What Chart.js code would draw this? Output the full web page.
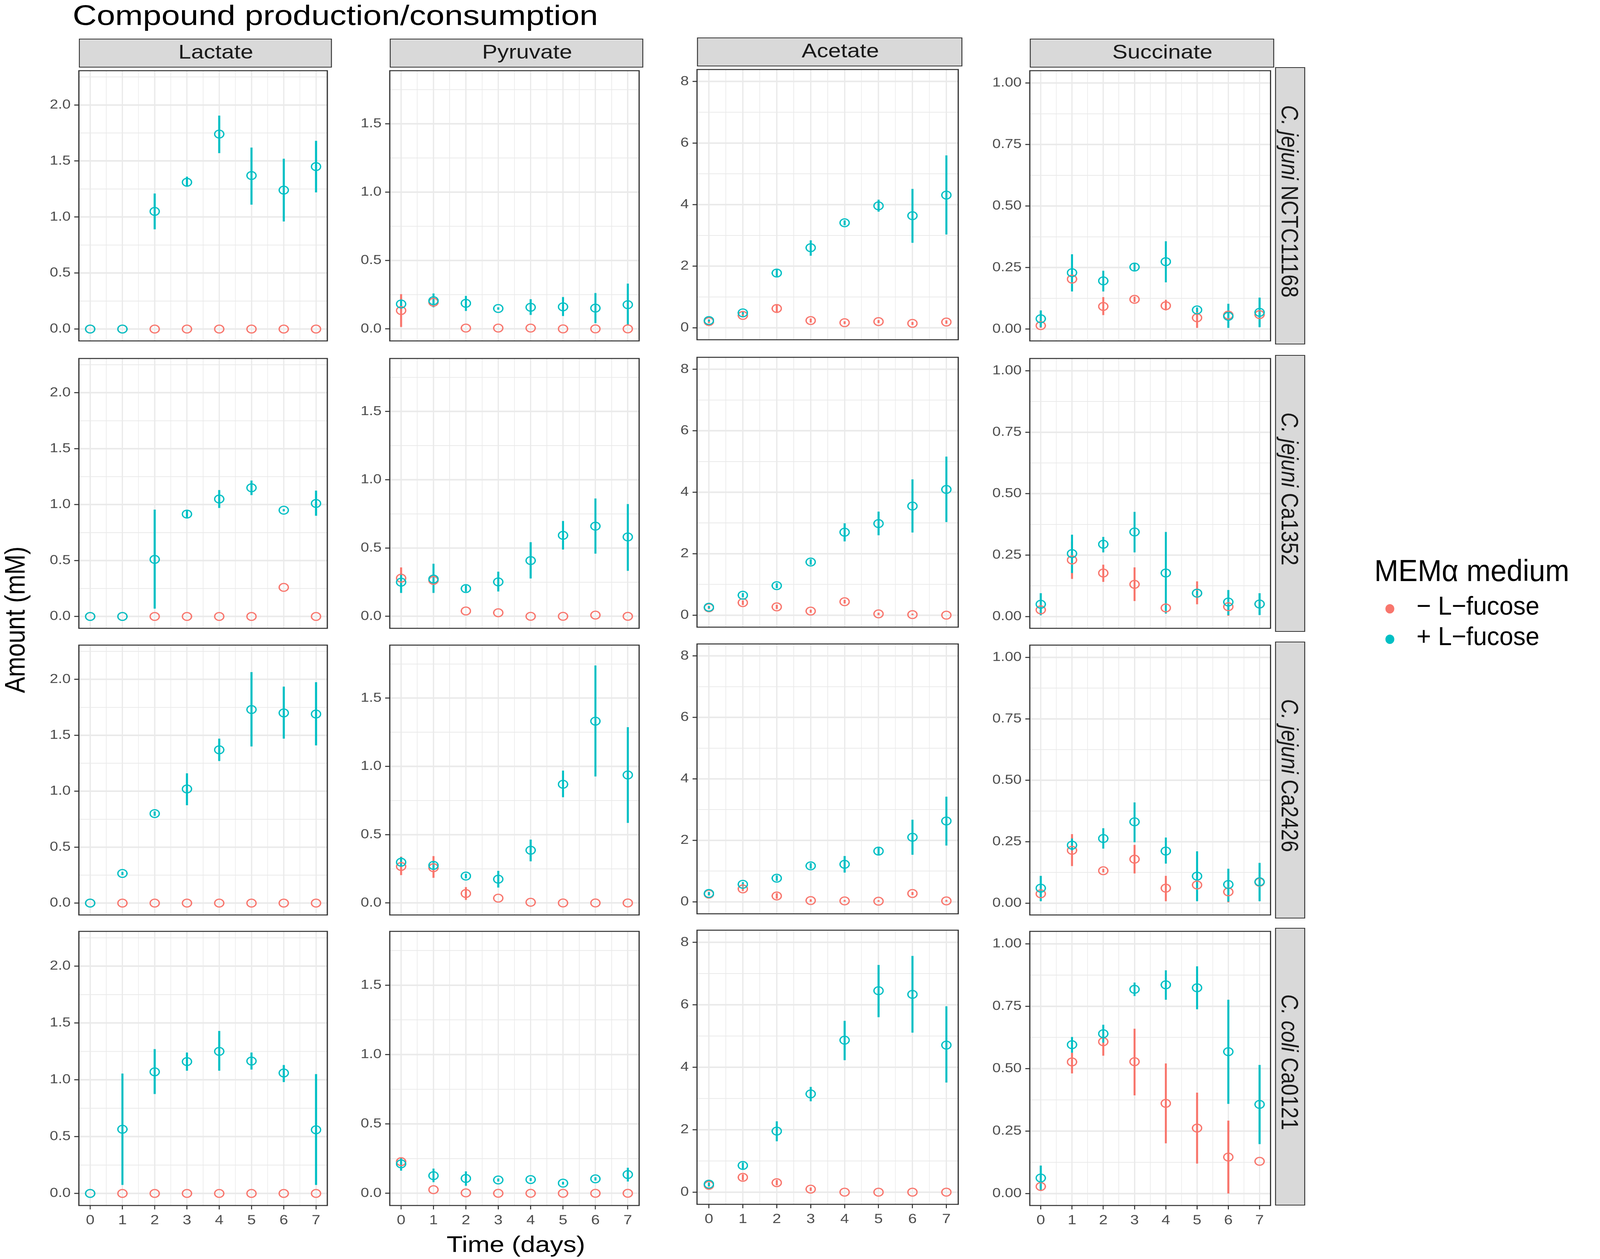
<!DOCTYPE html>
<html>
<head>
<meta charset="utf-8">
<script src="https://cdn.jsdelivr.net/npm/chart.js@4.4.1/dist/chart.umd.min.js"></script>
<style>
html, body { margin: 0; padding: 0; background: #fff; }
body { width: 100vw; height: 100vh; overflow: hidden; font-family: 'Liberation Sans', Arial, Helvetica, sans-serif; }
#fig, #legend { position: absolute; left: 0; top: 0; height: 3224px; transform-origin: 0 0; }
#legend { width: 4317px; }
#fig canvas { position: absolute; }
.txt { position: absolute; white-space: nowrap; line-height: 1; }
.strip { position: absolute; box-sizing: border-box; background: #d9d9d9; border: 2.4px solid #333;
         display: flex; align-items: center; justify-content: center; font-size: 50px; color: #1a1a1a; }
.vstrip { writing-mode: vertical-rl; font-size: 53px; }
.dot { position: absolute; border-radius: 50%; }
</style>
</head>
<body>
<div id="fig"></div>
<div id="legend"></div>
<script>
// ---- data ----
const days = [0, 1, 2, 3, 4, 5, 6, 7];
const compounds = ['Lactate', 'Pyruvate', 'Acetate', 'Succinate'];
const strains = ['<i>C. jejuni</i> NCTC11168', '<i>C. jejuni</i> Ca1352', '<i>C. jejuni</i> Ca2426', '<i>C. coli</i> Ca0121'];
const seriesNames = ['\u2212 L\u2212fucose', '+ L\u2212fucose'];

const xTickLabels = ['0', '1', '2', '3', '4', '5', '6', '7'];
const lactateTicks = ['0.0', '0.5', '1.0', '1.5', '2.0'];
const pyruvateTicks = ['0.0', '0.5', '1.0', '1.5'];
const acetateTicks = ['0', '2', '4', '6', '8'];
const succinateTicks = ['0.00', '0.25', '0.50', '0.75', '1.00'];

// rows: NCTC11168, Ca1352, Ca2426, Ca0121
const lactatePlus = [
    [0, 0, 1.05, 1.31, 1.74, 1.37, 1.24, 1.45],
    [0, 0, 0.51, 0.915, 1.05, 1.15, 0.95, 1.01],
    [0, 0.265, 0.80, 1.02, 1.37, 1.73, 1.70, 1.69],
    [0, 0.565, 1.07, 1.16, 1.25, 1.165, 1.06, 0.56]
];
const lactatePlusLo = [
    [0, 0, 0.89, 1.27, 1.57, 1.11, 0.96, 1.22],
    [0, 0, 0.07, 0.88, 0.97, 1.085, 0.94, 0.90],
    [0, 0.25, 0.78, 0.875, 1.27, 1.40, 1.47, 1.41],
    [0, 0.075, 0.875, 1.08, 1.08, 1.09, 0.98, 0.075]
];
const lactatePlusHi = [
    [0, 0, 1.21, 1.36, 1.905, 1.62, 1.52, 1.68],
    [0, 0, 0.955, 0.945, 1.13, 1.215, 0.96, 1.125],
    [0, 0.28, 0.82, 1.16, 1.47, 2.065, 1.935, 1.975],
    [0, 1.055, 1.27, 1.24, 1.43, 1.24, 1.13, 1.05]
];
const lactateMinus = [
    [0, 0, 0, 0, 0, 0, 0, 0],
    [0, 0, 0, 0, 0, 0, 0.26, 0],
    [0, 0, 0, 0, 0, 0, 0, 0],
    [0, 0, 0, 0, 0, 0, 0, 0]
];
const lactateMinusLo = lactateMinus;
const lactateMinusHi = lactateMinus;

const pyruvatePlus = [
    [0.182, 0.206, 0.187, 0.149, 0.158, 0.161, 0.152, 0.177],
    [0.250, 0.273, 0.203, 0.252, 0.408, 0.593, 0.660, 0.581],
    [0.298, 0.275, 0.197, 0.174, 0.386, 0.869, 1.331, 0.937],
    [0.212, 0.127, 0.107, 0.096, 0.099, 0.073, 0.104, 0.135]
];
const pyruvatePlusLo = [
    [0.150, 0.158, 0.131, 0.140, 0.102, 0.094, 0.042, 0.026],
    [0.171, 0.171, 0.180, 0.182, 0.277, 0.489, 0.459, 0.333],
    [0.265, 0.245, 0.180, 0.113, 0.305, 0.774, 0.926, 0.586],
    [0.163, 0.080, 0.054, 0.085, 0.088, 0.063, 0.092, 0.085]
];
const pyruvatePlusHi = [
    [0.215, 0.259, 0.241, 0.158, 0.217, 0.233, 0.262, 0.331],
    [0.313, 0.385, 0.226, 0.327, 0.543, 0.698, 0.863, 0.822],
    [0.335, 0.305, 0.214, 0.235, 0.464, 0.969, 1.739, 1.287],
    [0.259, 0.178, 0.158, 0.107, 0.110, 0.083, 0.116, 0.184]
];
const pyruvateMinus = [
    [0.134, 0.195, 0.006, 0.006, 0.006, 0, 0, 0],
    [0.279, 0.263, 0.039, 0.026, 0, 0, 0.009, 0],
    [0.267, 0.258, 0.069, 0.035, 0.005, 0, 0, 0],
    [0.228, 0.026, 0.003, 0, 0, 0, 0, 0]
];
const pyruvateMinusLo = [
    [0.014, 0.175, 0.006, 0.006, 0.006, 0, 0, 0],
    [0.212, 0.235, 0.039, 0.026, 0, 0, 0.009, 0],
    [0.204, 0.184, 0.022, 0.035, 0.005, 0, 0, 0],
    [0.205, 0.026, 0.003, 0, 0, 0, 0, 0]
];
const pyruvateMinusHi = [
    [0.254, 0.215, 0.006, 0.006, 0.006, 0, 0, 0],
    [0.358, 0.290, 0.039, 0.026, 0, 0, 0.009, 0],
    [0.339, 0.343, 0.116, 0.035, 0.005, 0, 0, 0],
    [0.250, 0.026, 0.003, 0, 0, 0, 0, 0]
];

const acetatePlus = [
    [0.234, 0.483, 1.776, 2.60, 3.41, 3.96, 3.64, 4.31],
    [0.258, 0.648, 0.96, 1.729, 2.70, 2.98, 3.55, 4.09],
    [0.27, 0.57, 0.768, 1.17, 1.22, 1.65, 2.10, 2.63],
    [0.255, 0.854, 1.955, 3.146, 4.867, 6.451, 6.334, 4.709]
];
const acetatePlusLo = [
    [0.20, 0.43, 1.65, 2.34, 3.33, 3.77, 2.76, 3.03],
    [0.22, 0.58, 0.88, 1.64, 2.40, 2.60, 2.69, 3.03],
    [0.22, 0.50, 0.68, 1.08, 0.95, 1.53, 1.53, 1.83],
    [0.20, 0.75, 1.63, 2.91, 4.227, 5.604, 5.108, 3.511]
];
const acetatePlusHi = [
    [0.27, 0.54, 1.90, 2.84, 3.49, 4.16, 4.51, 5.60],
    [0.30, 0.72, 1.04, 1.82, 2.99, 3.37, 4.42, 5.16],
    [0.32, 0.64, 0.86, 1.26, 1.49, 1.77, 2.67, 3.42],
    [0.31, 0.95, 2.27, 3.37, 5.487, 7.277, 7.566, 5.955]
];
const acetateMinus = [
    [0.20, 0.40, 0.625, 0.234, 0.163, 0.20, 0.142, 0.185],
    [0.24, 0.408, 0.27, 0.132, 0.438, 0.042, 0.018, 0],
    [0.25, 0.42, 0.19, 0.04, 0.03, 0.02, 0.27, 0.03],
    [0.22, 0.475, 0.303, 0.096, 0, 0, 0, 0]
];
const acetateMinusLo = [
    [0.15, 0.34, 0.48, 0.17, 0.12, 0.15, 0.09, 0.13],
    [0.20, 0.33, 0.20, 0.08, 0.38, 0, 0, 0],
    [0.20, 0.35, 0.10, 0, 0, 0, 0.22, 0],
    [0.17, 0.38, 0.22, 0.04, 0, 0, 0, 0]
];
const acetateMinusHi = [
    [0.25, 0.46, 0.76, 0.30, 0.21, 0.25, 0.19, 0.24],
    [0.28, 0.48, 0.34, 0.18, 0.50, 0.08, 0.05, 0],
    [0.30, 0.49, 0.28, 0.08, 0.06, 0.05, 0.32, 0.06],
    [0.27, 0.57, 0.39, 0.15, 0, 0, 0, 0]
];

const succinatePlus = [
    [0.042, 0.229, 0.196, 0.252, 0.274, 0.078, 0.052, 0.068],
    [0.050, 0.256, 0.294, 0.344, 0.177, 0.095, 0.059, 0.051],
    [0.061, 0.236, 0.263, 0.331, 0.212, 0.110, 0.076, 0.087],
    [0.062, 0.596, 0.640, 0.818, 0.836, 0.824, 0.568, 0.357]
];
const succinatePlusLo = [
    [0.008, 0.153, 0.153, 0.235, 0.190, 0.068, 0.005, 0.008],
    [0.005, 0.177, 0.261, 0.261, 0.012, 0.085, 0.006, 0.006],
    [0.008, 0.215, 0.222, 0.248, 0.161, 0.008, 0.006, 0.008],
    [0.010, 0.564, 0.604, 0.791, 0.776, 0.738, 0.359, 0.198]
];
const succinatePlusHi = [
    [0.076, 0.304, 0.237, 0.268, 0.357, 0.088, 0.103, 0.128],
    [0.095, 0.333, 0.324, 0.426, 0.344, 0.105, 0.108, 0.095],
    [0.111, 0.263, 0.305, 0.410, 0.267, 0.211, 0.140, 0.164],
    [0.112, 0.627, 0.676, 0.845, 0.894, 0.910, 0.776, 0.515]
];
const succinateMinus = [
    [0.014, 0.203, 0.092, 0.121, 0.095, 0.046, 0.057, 0.059],
    [0.027, 0.230, 0.177, 0.131, 0.035, 0.095, 0.040, 0.051],
    [0.038, 0.215, 0.132, 0.179, 0.061, 0.074, 0.046, 0.085],
    [0.028, 0.527, 0.608, 0.528, 0.361, 0.262, 0.146, 0.129]
];
const succinateMinusLo = [
    [0.005, 0.190, 0.057, 0.110, 0.076, 0.005, 0.045, 0.045],
    [0.015, 0.153, 0.141, 0.063, 0.025, 0.050, 0.003, 0.040],
    [0.025, 0.151, 0.125, 0.121, 0.008, 0.060, 0.003, 0.075],
    [0.020, 0.481, 0.552, 0.393, 0.201, 0.120, 0.000, 0.129]
];
const succinateMinusHi = [
    [0.022, 0.215, 0.130, 0.132, 0.119, 0.079, 0.070, 0.072],
    [0.040, 0.305, 0.211, 0.200, 0.045, 0.143, 0.050, 0.060],
    [0.050, 0.281, 0.140, 0.237, 0.111, 0.090, 0.060, 0.095],
    [0.035, 0.564, 0.643, 0.660, 0.521, 0.404, 0.292, 0.129]
];

// ---- layout (pixels of the 4317 wide picture) ----
const SX = 1.23;                 // the panels and their text are stretched sideways
const W = 4317 / SX;
const colX = [[213, 895], [1052, 1736], [1881, 2597], [2778, 3438]];
const rowY = [[172, 882], [909, 1618], [1643, 2352], [2376, 3087]];
const colShift = [0, 0, -3, 0];
const yRange = [[-0.106, 2.306], [-0.088, 1.888], [-0.39, 8.39], [-0.048, 1.05]];
const YW = 100, XH = 72, PAD = 4;
const RED = '#F8766D', TEAL = '#00BFC4';
const FONT = "'Liberation Sans', Arial, Helvetica, sans-serif";

const panelData = [
    [lactateMinus, lactateMinusLo, lactateMinusHi, lactatePlus, lactatePlusLo, lactatePlusHi, lactateTicks],
    [pyruvateMinus, pyruvateMinusLo, pyruvateMinusHi, pyruvatePlus, pyruvatePlusLo, pyruvatePlusHi, pyruvateTicks],
    [acetateMinus, acetateMinusLo, acetateMinusHi, acetatePlus, acetatePlusLo, acetatePlusHi, acetateTicks],
    [succinateMinus, succinateMinusLo, succinateMinusHi, succinatePlus, succinatePlusLo, succinatePlusHi, succinateTicks]
];

// map the 4317x3224 layout onto the viewport actually given
const kx = window.innerWidth / 4317, ky = window.innerHeight / 3224;
const fig = document.getElementById('fig');
const legend = document.getElementById('legend');
fig.style.width = W + 'px';
fig.style.transform = 'scale(' + kx + ',' + ky + ') scaleX(' + SX + ')';
legend.style.transform = 'scale(' + kx + ',' + ky + ')';

function addText(parent, html, css) {
    const d = document.createElement('div');
    d.className = 'txt';
    d.innerHTML = html;
    Object.assign(d.style, css);
    parent.appendChild(d);
    return d;
}

// error bars drawn through the chart scales
const errorBars = {
    id: 'errorBars',
    beforeDatasetsDraw(chart) {
        const {ctx, scales: {x, y}} = chart;
        ctx.save();
        ctx.lineWidth = 4.5;
        chart.data.datasets.slice().sort((a, b) => b.order - a.order).forEach(ds => {
            ctx.strokeStyle = ds.borderColor;
            ds.data.forEach((p, i) => {
                const lo = ds.errLo[i], hi = ds.errHi[i];
                if (hi - lo <= 0) return;
                const px = x.getPixelForValue(p.x);
                ctx.beginPath();
                ctx.moveTo(px, y.getPixelForValue(lo));
                ctx.lineTo(px, y.getPixelForValue(hi));
                ctx.stroke();
            });
        });
        ctx.restore();
    }
};

const panelBorder = {
    id: 'panelBorder',
    afterDraw(chart) {
        const {ctx, chartArea: a} = chart;
        ctx.save();
        ctx.strokeStyle = '#333333';
        ctx.lineWidth = 2.6;
        ctx.strokeRect(a.left, a.top, a.right - a.left, a.bottom - a.top);
        ctx.restore();
    }
};

const xMajor = xTickLabels.map(Number);
const xGrid = [];
xMajor.forEach((v, i) => { xGrid.push(v); if (i < xMajor.length - 1) xGrid.push(v + 0.5); });

function makePanel(c, r) {
    const [mMean, mLo, mHi, pMean, pLo, pHi, tickLabels] = panelData[c];
    const majors = tickLabels.map(Number);
    const step = majors[1] - majors[0];
    const yGrid = [];
    majors.forEach(v => { yGrid.push(v); if (v + step / 2 < yRange[c][1]) yGrid.push(v + step / 2); });
    const isMajorY = v => majors.some(m => Math.abs(m - v) < 1e-9);
    const isMajorX = v => Number.isInteger(Math.round(v * 1000) / 1000);

    const bottomRow = r === 3;
    const L = colX[c][0] / SX, R = colX[c][1] / SX;
    const T = rowY[r][0] + colShift[c], B = rowY[r][1] + colShift[c];
    const cw = Math.round(R - L + YW + PAD);
    const ch = Math.round(B - T + PAD + (bottomRow ? XH : PAD));

    const canvas = document.createElement('canvas');
    canvas.width = cw;
    canvas.height = ch;
    canvas.style.left = (L - YW) + 'px';
    canvas.style.top = (T - PAD) + 'px';
    canvas.style.width = cw + 'px';
    canvas.style.height = ch + 'px';
    fig.appendChild(canvas);

    const mk = (mean, lo, hi, color, name, order) => ({
        label: name,
        data: days.map((d, i) => ({x: d, y: mean[r][i]})),
        errLo: lo[r],
        errHi: hi[r],
        borderColor: color,
        backgroundColor: 'rgba(0,0,0,0)',
        pointBackgroundColor: 'rgba(0,0,0,0)',
        pointBorderColor: color,
        pointBorderWidth: 3,
        pointRadius: 10,
        showLine: false,
        order: order
    });

    new Chart(canvas, {
        type: 'scatter',
        data: {
            datasets: [
                mk(mMean, mLo, mHi, RED, seriesNames[0], 1),
                mk(pMean, pLo, pHi, TEAL, seriesNames[1], 0)
            ]
        },
        options: {
            responsive: false,
            animation: false,
            devicePixelRatio: 2,
            events: [],
            layout: {padding: {left: 0, top: PAD, right: PAD, bottom: bottomRow ? 0 : PAD}},
            plugins: {legend: {display: false}, tooltip: {enabled: false}},
            scales: {
                x: {
                    type: 'linear',
                    min: -0.35,
                    max: 7.35,
                    afterBuildTicks: ax => { ax.ticks = xGrid.map(v => ({value: v})); },
                    afterFit: ax => { ax.height = bottomRow ? XH : 0; ax.paddingLeft = 0; ax.paddingRight = 0; },
                    border: {display: false},
                    grid: {
                        color: '#EAEAEA',
                        lineWidth: ctx => isMajorX(ctx.tick.value) ? 2.8 : 1.4,
                        drawTicks: bottomRow,
                        tickLength: 10,
                        tickWidth: 2.2,
                        tickColor: ctx => isMajorX(ctx.tick.value) ? '#333333' : 'rgba(0,0,0,0)'
                    },
                    ticks: {
                        display: bottomRow,
                        autoSkip: false,
                        maxRotation: 0,
                        minRotation: 0,
                        padding: 8,
                        color: '#4D4D4D',
                        font: {family: FONT, size: 34},
                        callback: v => {
                            const i = xMajor.findIndex(m => Math.abs(m - v) < 1e-9);
                            return i >= 0 ? xTickLabels[i] : '';
                        }
                    }
                },
                y: {
                    type: 'linear',
                    min: yRange[c][0],
                    max: yRange[c][1],
                    afterBuildTicks: ax => { ax.ticks = yGrid.map(v => ({value: v})); },
                    afterFit: ax => { ax.width = YW; ax.paddingTop = 0; ax.paddingBottom = 0; },
                    border: {display: false},
                    grid: {
                        color: '#EAEAEA',
                        lineWidth: ctx => isMajorY(ctx.tick.value) ? 4 : 2,
                        drawTicks: true,
                        tickLength: 10,
                        tickWidth: 2.6,
                        tickColor: ctx => isMajorY(ctx.tick.value) ? '#333333' : 'rgba(0,0,0,0)'
                    },
                    ticks: {
                        autoSkip: false,
                        padding: 8,
                        color: '#4D4D4D',
                        font: {family: FONT, size: 33},
                        callback: v => {
                            const i = majors.findIndex(m => Math.abs(m - v) < 1e-9);
                            return i >= 0 ? tickLabels[i] : '';
                        }
                    }
                }
            }
        },
        plugins: [errorBars, panelBorder]
    });
}

for (let c = 0; c < compounds.length; c++) {
    for (let r = 0; r < strains.length; r++) makePanel(c, r);
}

// top strips (label sits a little right of centre, as in the source figure)
compounds.forEach((name, c) => {
    const s = document.createElement('div');
    s.className = 'strip';
    const L = colX[c][0] / SX, R = colX[c][1] / SX;
    s.style.left = L + 'px';
    s.style.width = (R - L) + 'px';
    s.style.top = (99 + colShift[c]) + 'px';
    s.style.height = '74px';
    s.style.paddingLeft = '46px';
    s.style.paddingBottom = '6px';
    s.textContent = name;
    fig.appendChild(s);
});

// right strips
strains.forEach((name, r) => {
    const s = document.createElement('div');
    s.className = 'strip';
    s.style.left = (3440 / SX) + 'px';
    s.style.width = (82 / SX) + 'px';
    s.style.top = rowY[r][0] + 'px';
    s.style.height = (rowY[r][1] - rowY[r][0]) + 'px';
    s.style.paddingBottom = '24px';
    s.innerHTML = '<span class="vstrip">' + name + '</span>';
    fig.appendChild(s);
});

// titles
addText(fig, 'Compound production/consumption', {left: (196 / SX) + 'px', top: '2px', fontSize: '73px', color: '#000'});
addText(fig, 'Time (days)', {left: (1392 / SX - 300) + 'px', width: '600px', textAlign: 'center', top: '3157px', fontSize: '58px', color: '#000'});
addText(fig, 'Amount (mM)', {left: (40 / SX - 300) + 'px', width: '600px', textAlign: 'center', top: (1587 - 31) + 'px',
    fontSize: '62px', color: '#000', transform: 'rotate(-90deg)', transformOrigin: '50% 50%'});

// legend (not stretched)
addText(legend, 'MEM\u03b1 medium', {left: '3708px', top: (1488 - 66) + 'px', fontSize: '78px', color: '#000'});
[RED, TEAL].forEach((col, i) => {
    const cy = [1559, 1637][i];
    const d = document.createElement('div');
    d.className = 'dot';
    Object.assign(d.style, {left: (3750 - 12) + 'px', top: (cy - 12) + 'px', width: '24px', height: '24px', background: col});
    legend.appendChild(d);
    addText(legend, seriesNames[i], {left: '3822px', top: (cy + 14 - 56) + 'px', fontSize: '67px', color: '#000'});
});
</script>
</body>
</html>
